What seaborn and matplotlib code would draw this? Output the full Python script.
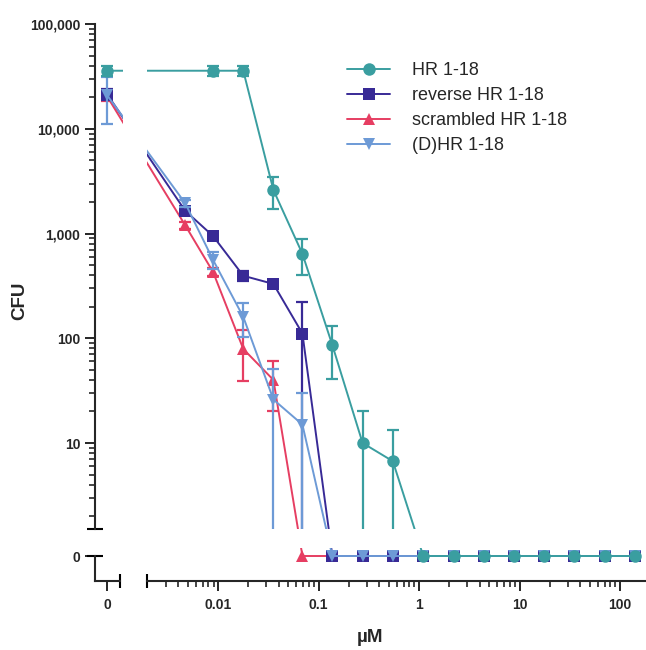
import numpy as np
import matplotlib
matplotlib.use("Agg")
import matplotlib.pyplot as plt
from matplotlib.ticker import FixedLocator, FuncFormatter, NullFormatter
import seaborn as sns

# concentration in uM, 0 = untreated control
conc = [0, 0.0047, 0.0089, 0.0178, 0.0355, 0.069, 0.137, 0.274, 0.548,
        1.1, 2.2, 4.4, 8.8, 17.5, 35, 70, 140]
nan = np.nan

# CFU means and SD per peptide
hr_cfu = [35800, nan, 35800, 35800, 2600, 640, 86, 10, 6.7, 0, 0, 0, 0, 0, 0, 0, 0]
hr_sd = [4000, nan, 4000, 4000, 880, 240, 45, 10, 6.5, 0, 0, 0, 0, 0, 0, 0, 0]
rev_cfu = [21500, 1650, 946, 395, 330, 111, 0, 0, 0, 0, 0, 0, 0, 0, 0, 0, 0]
rev_sd = [2500, 120, 60, 40, 30, 110, 0, 0, 0, 0, 0, 0, 0, 0, 0, 0, 0]
scr_cfu = [20500, 1200, 430, 79, 40, 0, 0, 0, 0, 0, 0, 0, 0, 0, 0, 0, 0]
scr_sd = [2000, 100, 35, 40, 20, 0, 0, 0, 0, 0, 0, 0, 0, 0, 0, 0, 0]
dhr_cfu = [21000, 1950, 560, 160, 26, 15, 0, 0, 0, 0, 0, 0, 0, 0, 0, 0, 0]
dhr_sd = [10000, 150, 100, 58, 25, 15, 0, 0, 0, 0, 0, 0, 0, 0, 0, 0, 0]

names = ["HR 1-18", "reverse HR 1-18", "scrambled HR 1-18", "(D)HR 1-18"]
means = [hr_cfu, rev_cfu, scr_cfu, dhr_cfu]
sds = [hr_sd, rev_sd, scr_sd, dhr_sd]
colors = ["#3a9ea0", "#382a96", "#e63e62", "#6d9ad6"]
markers = ["o", "s", "^", "v"]
draw_order = [2, 1, 3, 0]  # HR 1-18 on top

# broken axes: zero gets its own little segment left of / below the log range
X_ZERO = 10 ** -3.116
Y_ZERO = 10 ** -0.0788


def fwd_x(v):
    v = np.asarray(v, dtype=float)
    return np.log10(np.where(np.isnan(v), np.nan, np.where(v > 0, v, X_ZERO)))


def fwd_y(v):
    v = np.asarray(v, dtype=float)
    return np.log10(np.where(np.isnan(v), np.nan, np.where(v > 0, v, Y_ZERO)))


def inv(t):
    return 10 ** np.asarray(t, dtype=float)


sns.set_style("ticks")
plt.rcParams["font.family"] = ["Liberation Sans", "DejaVu Sans"]
plt.rcParams["font.weight"] = "bold"

W, H = 646, 650
fig = plt.figure(figsize=(W / 100, H / 100), dpi=100)


def px_axes(x0, x1, y0, y1):
    return fig.add_axes([x0 / W, 1 - y1 / H, (x1 - x0) / W, (y1 - y0) / H])


ax_tl = px_axes(95, 123, 24, 529)
ax_tr = px_axes(147, 646, 24, 529)
ax_bl = px_axes(95, 123, 548, 581)
ax_br = px_axes(147, 646, 548, 581)
axes = [ax_tl, ax_tr, ax_bl, ax_br]

xlim_left = (10 ** -3.235, 10 ** -2.956)
xlim_right = (10 ** -2.7077, 10 ** 2.258)
ylim_top = (10 ** 0.179, 1e5)
ylim_bot = (10 ** -0.3174, 10 ** -0.0024)
x_cap = 10 ** -2.986

for ax in axes:
    ax.set_xscale("function", functions=(fwd_x, inv))
    ax.set_yscale("function", functions=(fwd_y, inv))
    ax.patch.set_visible(False)
    for k, i in enumerate(draw_order):
        sns.lineplot(x=conc, y=means[i], ax=ax, color=colors[i], marker=markers[i],
                     markersize=9, markeredgewidth=0, linewidth=1.4, errorbar=None,
                     label=names[i] if ax is ax_tr else "_nolegend_", legend=False,
                     zorder=3 + k)
        if ax in (ax_tl, ax_tr):
            x = np.asarray(conc, dtype=float)
            y = np.asarray(means[i], dtype=float)
            e = np.asarray(sds[i], dtype=float)
            m = e > 0
            ax.errorbar(x[m], y[m], yerr=e[m], fmt="none", ecolor=colors[i],
                        elinewidth=1.6, capsize=4.5, capthick=1.6, zorder=2.9 + k)
    ax.set_xlabel("")
    ax.set_ylabel("")
    for s in ax.spines.values():
        s.set_visible(False)
        s.set_linewidth(1.5)
    ax.tick_params(which="both", left=False, bottom=False,
                   labelleft=False, labelbottom=False)

ax_tl.set_xlim(*xlim_left)
ax_bl.set_xlim(*xlim_left)
ax_tr.set_xlim(*xlim_right)
ax_br.set_xlim(*xlim_right)
ax_tl.set_ylim(*ylim_top)
ax_tr.set_ylim(*ylim_top)
ax_bl.set_ylim(*ylim_bot)
ax_br.set_ylim(*ylim_bot)

major_kw = dict(direction="out", length=7.2, width=1.4, labelsize=10, pad=3.5)
minor_kw = dict(direction="out", length=4.3, width=1.2)

# main log y axis
ax_tl.spines["left"].set_visible(True)
ax_tl.yaxis.set_major_locator(FixedLocator([10, 100, 1000, 10000, 100000]))
ax_tl.yaxis.set_minor_locator(FixedLocator(
    [k * 10 ** d for d in range(0, 5) for k in range(2, 10)]))
ax_tl.yaxis.set_major_formatter(FuncFormatter(lambda v, p: f"{v:,.0f}"))
ax_tl.yaxis.set_minor_formatter(NullFormatter())
ax_tl.tick_params(axis="y", which="major", left=True, labelleft=True, **major_kw)
ax_tl.tick_params(axis="y", which="minor", left=True, **minor_kw)
ax_tl.plot([0], [ylim_top[0]], marker="_", ms=11, mew=1.5, color="k",
           transform=ax_tl.get_yaxis_transform(), clip_on=False)

# zero segment of y and x
ax_bl.spines["left"].set_visible(True)
ax_bl.spines["left"].set_bounds(ylim_bot[0], 0)
ax_bl.spines["bottom"].set_visible(True)
ax_bl.spines["bottom"].set_bounds(xlim_left[0], x_cap)
ax_bl.yaxis.set_major_locator(FixedLocator([0]))
ax_bl.yaxis.set_minor_locator(FixedLocator([]))
ax_bl.yaxis.set_major_formatter(FuncFormatter(lambda v, p: "0"))
ax_bl.xaxis.set_major_locator(FixedLocator([0]))
ax_bl.xaxis.set_minor_locator(FixedLocator([]))
ax_bl.xaxis.set_major_formatter(FuncFormatter(lambda v, p: "0"))
ax_bl.tick_params(axis="y", which="major", left=True, labelleft=True, **major_kw)
ax_bl.tick_params(axis="x", which="major", bottom=True, labelbottom=True,
                  **{**major_kw, "pad": 5})
ax_bl.plot([0], [0], marker="_", ms=11, mew=1.5, color="k",
           transform=ax_bl.get_yaxis_transform(), clip_on=False)
ax_bl.plot([x_cap], [0], marker="|", ms=10, mew=1.5, color="k",
           transform=ax_bl.get_xaxis_transform(), clip_on=False)

# main log x axis
ax_br.spines["bottom"].set_visible(True)
ax_br.xaxis.set_major_locator(FixedLocator([0.01, 0.1, 1, 10, 100]))
ax_br.xaxis.set_minor_locator(FixedLocator(
    [k * 10 ** d for d in range(-3, 3) for k in range(2, 10)
     if 0.0025 < k * 10 ** d < 180]))
ax_br.xaxis.set_major_formatter(FuncFormatter(lambda v, p: f"{v:g}"))
ax_br.xaxis.set_minor_formatter(NullFormatter())
ax_br.tick_params(axis="x", which="major", bottom=True, labelbottom=True,
                  **{**major_kw, "pad": 5})
ax_br.tick_params(axis="x", which="minor", bottom=True, **minor_kw)
ax_br.plot([xlim_right[0]], [0], marker="|", ms=10, mew=1.5, color="k",
           transform=ax_br.get_xaxis_transform(), clip_on=False)

fig.text(20 / W, 1 - 301 / H, "CFU", rotation=90, ha="center", va="center",
         fontsize=13.5, fontweight="bold")
fig.text(370.5 / W, 1 - 637 / H, "\u00b5M", ha="center", va="center",
         fontsize=13.5, fontweight="bold")

lines = {l.get_label(): l for l in ax_tr.get_lines()}
ax_tr.legend([lines[n] for n in names], names, loc="upper left",
             bbox_to_anchor=(347 / W, 1 - 62 / H), bbox_transform=fig.transFigure,
             frameon=False, borderaxespad=0, borderpad=0, handlelength=2.4,
             handletextpad=1.2, labelspacing=0.45,
             prop={"size": 13, "weight": "normal"})

fig.savefig("out.png", dpi=100)
